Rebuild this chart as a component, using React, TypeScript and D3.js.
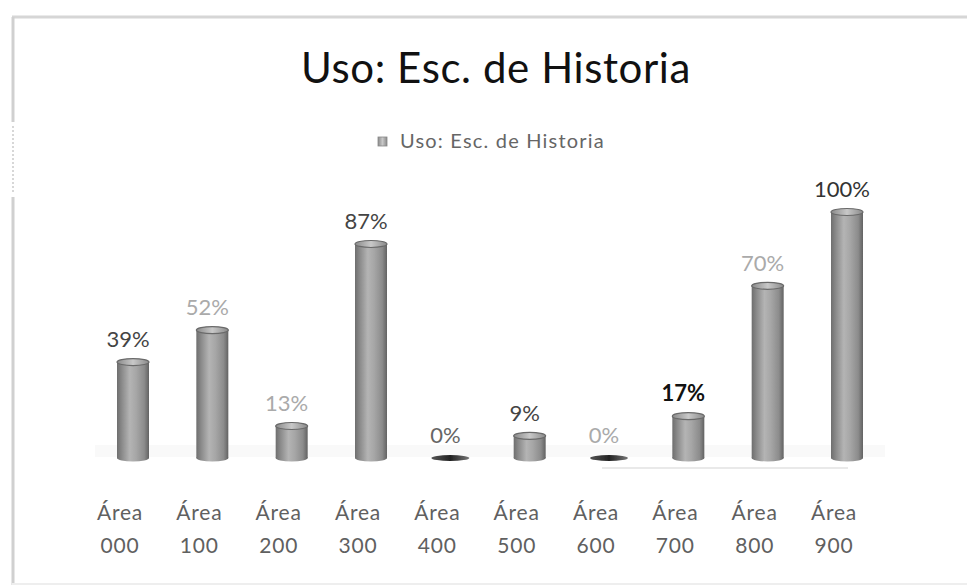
import React from "react";
import * as d3 from "d3";

const categories = ["000", "100", "200", "300", "400", "500", "600", "700", "800", "900"];
const values = [39, 52, 13, 87, 0, 9, 0, 17, 70, 100];
const labelColors = ["#444", "#aaa", "#aaa", "#444", "#666", "#444", "#aaa", "#111", "#aaa", "#333"];
const labelBold = [false, false, false, false, false, false, false, true, false, false];
const titleText = "Uso: Esc. de Historia";
const seriesName = "Uso: Esc. de Historia";
const axisPrefix = "Área";

const W = 967;
const H = 587;
const FONT = "Lato, 'Open Sans', sans-serif";

export default function App() {
  const x = d3.scalePoint<string>().domain(categories).range([133, 847]);
  const y = d3.scaleLinear().domain([0, 100]).range([458, 212]);
  const bw = 32;
  const ry = 3.5;

  return (
    <svg
      width={W}
      height={H}
      viewBox={`0 0 ${W} ${H}`}
      style={{ position: "absolute", left: 0, top: 0, background: "#fff" }}
    >
      <defs>
        <linearGradient id="cyl" x1="0" x2="1" y1="0" y2="0">
          <stop offset="0" stopColor="#6e6e6e" />
          <stop offset="0.15" stopColor="#8a8a8a" />
          <stop offset="0.4" stopColor="#b4b4b4" />
          <stop offset="0.6" stopColor="#a6a6a6" />
          <stop offset="0.85" stopColor="#8c8c8c" />
          <stop offset="1" stopColor="#626262" />
        </linearGradient>
        <linearGradient id="cap" x1="0" x2="1" y1="0" y2="0">
          <stop offset="0" stopColor="#8a8a8a" />
          <stop offset="0.5" stopColor="#c8c8c8" />
          <stop offset="1" stopColor="#8a8a8a" />
        </linearGradient>
        <linearGradient id="flat" x1="0" x2="1" y1="0" y2="0">
          <stop offset="0" stopColor="#555" />
          <stop offset="0.5" stopColor="#222" />
          <stop offset="1" stopColor="#777" />
        </linearGradient>
        <filter id="blur" x="-10%" y="-10%" width="120%" height="120%">
          <feGaussianBlur stdDeviation="0.6" />
        </filter>
      </defs>

      {/* frame */}
      <line x1={12} y1={17} x2={967} y2={17} stroke="#d6d6d6" strokeWidth={3} />
      <line x1={13} y1={17} x2={13} y2={122} stroke="#d0d0d0" strokeWidth={3} />
      <line x1={13} y1={126} x2={13} y2={194} stroke="#bdbdbd" strokeWidth={1.2} strokeDasharray="2 2" />
      <line x1={13} y1={197} x2={13} y2={585} stroke="#d0d0d0" strokeWidth={3} />
      <line x1={12} y1={584} x2={967} y2={584} stroke="#eeeeee" strokeWidth={2} />

      {/* title */}
      <text x={496} y={83} textAnchor="middle" fontFamily={FONT} fontSize={42} fill="#111" letterSpacing={0.6}>
        {titleText}
      </text>

      {/* legend */}
      <rect x={378} y={137} width={9} height={9} fill="url(#cap)" stroke="#888" strokeWidth={0.8} />
      <text x={400} y={148} fontFamily={FONT} fontSize={20} fill="#666" letterSpacing={1.2}>
        {seriesName}
      </text>

      {/* faint floor */}
      <rect x={95} y={445} width={790} height={12} fill="#f9f9f9" />
      <line x1={602} y1={468} x2={848} y2={468} stroke="#d4d4d4" strokeWidth={1.2} />

      {/* bars */}
      {categories.map((c, i) => {
        const cx = x(c) as number;
        const v = values[i];
        const top = y(v);
        const base = y(0);
        if (v === 0) {
          return (
            <g key={c}>
              <ellipse cx={cx} cy={base} rx={bw / 2 + 3} ry={3} fill="url(#flat)" filter="url(#blur)" />
            </g>
          );
        }
        return (
          <g key={c} filter="url(#blur)">
            <ellipse cx={cx} cy={base} rx={bw / 2} ry={ry} fill="url(#cyl)" />
            <rect x={cx - bw / 2} y={top} width={bw} height={base - top} fill="url(#cyl)" />
            <ellipse cx={cx} cy={top} rx={bw / 2} ry={ry} fill="url(#cap)" stroke="#6a6a6a" strokeWidth={1.2} />
          </g>
        );
      })}

      {/* data labels */}
      {categories.map((c, i) => {
        const cx = (x(c) as number) - 5;
        const v = values[i];
        return (
          <text
            key={"l" + c}
            x={cx}
            y={y(v) - 15}
            textAnchor="middle"
            fontFamily={FONT}
            fontSize={22}
            fontWeight={labelBold[i] ? 700 : 400}
            fill={labelColors[i]}
          >
            {v + "%"}
          </text>
        );
      })}

      {/* axis labels */}
      {categories.map((c) => {
        const cx = (x(c) as number) - 13;
        return (
          <text key={"a" + c} textAnchor="middle" fontFamily={FONT} fontSize={21} fill="#606060" letterSpacing={0.8}>
            <tspan x={cx} y={520}>{axisPrefix}</tspan>
            <tspan x={cx} y={553}>{c}</tspan>
          </text>
        );
      })}
    </svg>
  );
}
